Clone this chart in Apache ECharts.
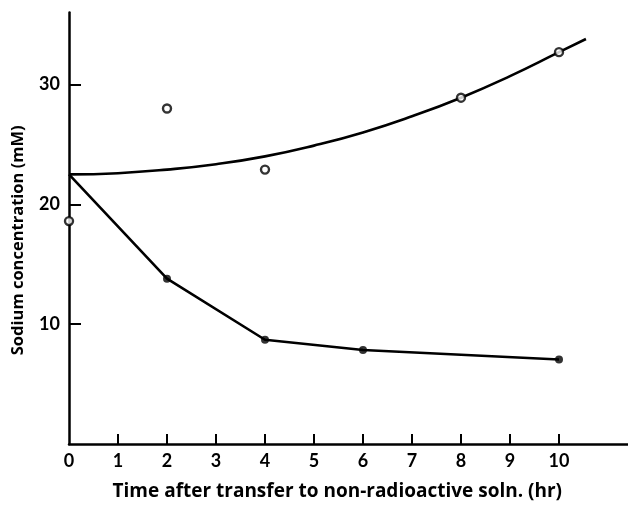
<!DOCTYPE html>
<html>
<head>
<meta charset="utf-8">
<script src="https://cdn.jsdelivr.net/npm/echarts@6/dist/echarts.min.js"></script>
<style>
  html, body { margin: 0; padding: 0; background: #fff; }
  #chart { width: 628px; height: 506px; }
</style>
</head>
<body>
<div id="chart"></div>
<script>
// Sodium measured in the tissue (open circles)
const openHours = [0, 2, 4, 8, 10];
const openSodium = [18.6, 28.0, 22.9, 28.9, 32.7];

// Radioactive sodium remaining (filled dots), line starts from the initial level
const filledHours = [2, 4, 6, 10];
const filledSodium = [13.8, 8.7, 7.85, 7.05];
const lowerLineHours = [0, 2, 4, 6, 10];
const lowerLineSodium = [22.5, 13.8, 8.7, 7.85, 7.05];

// Smooth fitted curve through the total sodium
const curveHours = [0, 1, 2, 3, 4, 5, 6, 7, 8, 9, 10, 10.55];
const curveSodium = [22.5, 22.6, 22.9, 23.35, 24.0, 24.9, 26.0, 27.35, 28.9, 30.7, 32.7, 33.8];

// Axis ticks and labels
const xTickValues = [1, 2, 3, 4, 5, 6, 7, 8, 9, 10];
const xLabelValues = [0, 1, 2, 3, 4, 5, 6, 7, 8, 9, 10];
const yTickValues = [10, 20, 30];

const pair = (xs, ys) => xs.map((x, i) => [x, ys[i]]);

const LABEL_FONT = 'Lato';
const TITLE_FONT = '"Open Sans"';
const INK = '#000';
const chart = echarts.init(document.getElementById('chart'), null, { renderer: 'canvas' });

chart.setOption({
  backgroundColor: '#ffffff',
  animation: false,
  grid: { left: 69, top: 12.6, width: 558.6, height: 434.9, containLabel: false },
  xAxis: {
    type: 'value',
    min: 0,
    max: 11.4,
    interval: 1,
    name: 'Time after transfer to non-radioactive soln. (hr)',
    nameLocation: 'middle',
    nameGap: 38,
    nameTextStyle: { fontFamily: TITLE_FONT, fontWeight: 'bold', fontSize: 19, color: INK, padding: [0, 0, 0, -22] },
    axisLine: { show: true, lineStyle: { color: INK, width: 2.5 } },
    axisTick: { show: true, inside: true, length: 10, customValues: xTickValues, lineStyle: { color: INK, width: 2 } },
    axisLabel: { customValues: xLabelValues, margin: 8, fontFamily: LABEL_FONT, fontWeight: 'bold', fontSize: 18, color: INK },
    splitLine: { show: false }
  },
  yAxis: {
    type: 'value',
    min: 0,
    max: 36,
    interval: 10,
    name: 'Sodium concentration (mM)',
    nameLocation: 'middle',
    nameGap: 42,
    nameRotate: 90,
    nameTextStyle: { fontFamily: TITLE_FONT, fontWeight: 'bold', fontSize: 16.5, color: INK, padding: [0, 0, 0, -24] },
    axisLine: { show: true, lineStyle: { color: INK, width: 2.5 } },
    axisTick: { show: true, inside: true, length: 12, customValues: yTickValues, lineStyle: { color: INK, width: 2 } },
    axisLabel: { customValues: yTickValues, margin: 9, fontFamily: LABEL_FONT, fontWeight: 'bold', fontSize: 18, color: INK },
    splitLine: { show: false }
  },
  series: [
    {
      type: 'line',
      data: pair(curveHours, curveSodium),
      smooth: true,
      showSymbol: false,
      symbol: 'none',
      lineStyle: { color: INK, width: 2.6 },
      z: 2
    },
    {
      type: 'line',
      data: pair(lowerLineHours, lowerLineSodium),
      smooth: false,
      symbol: 'none',
      lineStyle: { color: INK, width: 2.6 },
      z: 2
    },
    {
      type: 'scatter',
      data: pair(filledHours, filledSodium),
      symbol: 'circle',
      symbolSize: 8,
      itemStyle: { color: INK, borderWidth: 0 },
      z: 3
    },
    {
      type: 'scatter',
      data: pair(openHours, openSodium),
      symbol: 'circle',
      symbolSize: 8,
      itemStyle: { color: '#ffffff', borderColor: INK, borderWidth: 2.4 },
      z: 4
    }
  ]
});
</script>
</body>
</html>
